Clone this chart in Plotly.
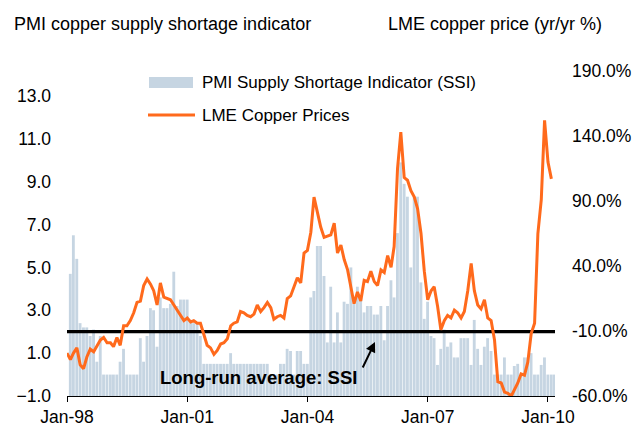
import pandas as pd
import plotly.graph_objects as go

# ---------------- data ----------------
start_month = "1998-01-01"
n_months = 146

ssi_values = [
    4.7, 6.5, 5.4, 2.4, 2.2, 2.2, 1.8, 2.1, 0.6, 1.8, 0.0, 0.0,
    0.0, 0.0, 0.0, 0.6, 1.2, 0.0, 0.0, 0.0, 0.0, 1.7, 0.6, 1.8,
    3.1, 3.0, 1.3, 3.6, 3.1, 3.1, 3.3, 4.8, 3.2, 3.5, 3.5, 3.5,
    2.5, 2.4, 2.4, 1.8, 0.5, 0.5, 0.5, 0.5, 0.5, 0.5, 0.5, 0.5,
    1.0, 0.5, 0.5, 0.5, 0.5, 0.5, 0.5, 0.5, 0.5, 0.5, 0.5, 0.5,
    0.0, 0.0, 0.0, 0.5, 0.5, 1.2, 1.1, 0.0, 1.1, 1.1, 0.5, 0.5,
    3.6, 3.9, 6.0, 6.0, 4.6, 1.5, 4.1, 1.5, 2.9, 1.5, 3.4, 3.3,
    5.0, 3.3, 4.1, 3.6, 2.9, 3.2, 3.2, 2.8, 2.8, 3.2, 1.6, 3.2,
    4.4, 3.6, 6.6, 9.9, 8.9, 8.3, 5.0, 8.3, 8.3, 4.3, 2.6, 3.4,
    1.8, 1.7, 0.45, 1.2, 2.1, 1.3, 1.5, 0.8, 0.8, 1.7, 1.7, 1.7,
    0.45, 2.55, 1.2, 0.45, 1.3, 1.7, 1.1, 0.0, 0.0, 0.0, 0.8, 0.0,
    0.0, 0.4, 0.5, 0.0, 0.8, 0.8, 1.0, 0.0, 0.0, 0.45, 0.8, 0.0,
    0.0, 0.0,
]

lme_copper_yoy = [
    -27, -32, -27, -23, -36, -39, -30, -24, -26, -22, -17, -15,
    -19, -19, -22, -15, -21, -6, -6, -2, 4, 12, 13, 25,
    30, 26, 21, 10, 27, 16, 15, 14, 10, 6, 2, -2,
    0, -3, -2, -4, -4, -13, -21, -23, -28, -25, -20, -19,
    -16, -6, -4, -3, 5, 4, 2, 1, 3, 10, 5, 8,
    12, 8, -1, 1, 2, 0, 15, 17, 24, 31, 27, 50,
    52, 66, 93, 80, 70, 62, 63, 64, 73, 50, 56, 45,
    37, 22, 11, 20, 13, 29, 28, 36, 28, 25, 37, 35,
    48, 39, 55, 115, 143, 108, 106, 98, 93, 84, 65, 36,
    14, 21, 24, 9, -9, -2, 2, 0, 6, 4, 0, 5,
    21, 42, 21, 10, 7, 14, 0, -2, -17, -49, -50, -57,
    -58, -60, -55, -50, -43, -44, -34, -12, -4, 65, 91, 152,
    120, 107,
]

long_run_avg_ssi = 2.0

left_ticks = [-1, 1, 3, 5, 7, 9, 11, 13]
right_ticks = [-60, -10, 40, 90, 140, 190]
x_tick_dates = ["1998-01-01", "2001-01-01", "2004-01-01", "2007-01-01", "2010-01-01"]
x_tick_labels = ["Jan-98", "Jan-01", "Jan-04", "Jan-07", "Jan-10"]

title_left = "PMI copper supply shortage indicator"
title_right = "LME copper price (yr/yr %)"
legend_bar = "PMI Supply Shortage Indicator (SSI)"
legend_line = "LME Copper Prices"
avg_label = "Long-run average: SSI"

# ---------------- figure ----------------
FONT = "Liberation Sans, Arial, sans-serif"
BAR_COLOR = "#C6D5E2"
LINE_COLOR = "#FF6A1C"

VIEW_W, VIEW_H = 642, 428
PAGE_OFFSET = 8            # default page body margin
W, H = VIEW_W - PAGE_OFFSET, VIEW_H - PAGE_OFFSET
PL, PR, PT, PB = 67, 555, 71, 396  # plot area in viewport px


def px_x(p):
    return (p - PL) / (PR - PL)


def px_y(p):
    return (PB - p) / (PB - PT)


dates = pd.date_range(start_month, periods=n_months, freq="MS")
bar_x = dates + pd.offsets.MonthEnd(1)
x_range = [pd.Timestamp("1998-01-01"), pd.Timestamp("2010-03-06")]

y_left_range = [-1, -1 + (PB - PT) / 21.43]
bar_base = left_ticks[0]

fig = go.Figure()

fig.add_trace(go.Bar(
    x=bar_x,
    y=[v - bar_base for v in ssi_values],
    base=bar_base,
    width=26 * 86400000,
    marker=dict(color=BAR_COLOR, line=dict(width=0)),
    name=legend_bar,
    yaxis="y",
))

fig.add_trace(go.Scatter(
    x=x_range,
    y=[long_run_avg_ssi, long_run_avg_ssi],
    mode="lines",
    line=dict(color="black", width=3.2),
    yaxis="y",
    showlegend=False,
))

fig.add_trace(go.Scatter(
    x=dates,
    y=lme_copper_yoy,
    mode="lines",
    line=dict(color=LINE_COLOR, width=3),
    name=legend_line,
    yaxis="y2",
))

fig.update_layout(
    width=W, height=H,
    margin=dict(l=PL - PAGE_OFFSET, r=VIEW_W - PR, t=PT - PAGE_OFFSET, b=VIEW_H - PB,
                pad=0, autoexpand=False),
    plot_bgcolor="white", paper_bgcolor="white",
    showlegend=False,
    font=dict(family=FONT, size=17, color="black"),
    xaxis=dict(
        type="date", range=x_range, automargin=False,
        tickvals=x_tick_dates, ticktext=x_tick_labels,
        ticks="outside", ticklen=5, tickcolor="black", tickwidth=1,
        showline=True, linecolor="black", linewidth=1,
        showgrid=False, zeroline=False,
        tickfont=dict(size=17.5),
    ),
    yaxis=dict(
        range=y_left_range, automargin=False,
        tickvals=left_ticks, tickformat=".1f",
        showgrid=False, zeroline=False, showline=False, ticks="",
        ticklabelstandoff=15,
        tickfont=dict(size=17.5),
    ),
    yaxis2=dict(
        overlaying="y", side="right", automargin=False,
        range=[-60, 190],
        tickvals=right_ticks, ticktext=[f"{v:.1f}%" for v in right_ticks],
        showgrid=False, zeroline=False, showline=False, ticks="",
        ticklabelstandoff=16,
        tickfont=dict(size=17.5),
    ),
)

# legend (drawn manually to match the reference swatches)
fig.add_shape(type="rect", xref="paper", yref="paper",
              x0=px_x(149), x1=px_x(193), y0=px_y(88), y1=px_y(77),
              fillcolor=BAR_COLOR, line=dict(width=0))
fig.add_shape(type="line", xref="paper", yref="paper",
              x0=px_x(148), x1=px_x(195), y0=px_y(115), y1=px_y(115),
              line=dict(color=LINE_COLOR, width=3))

annotations = [
    dict(text=legend_bar, x=px_x(200), y=px_y(82.5), xanchor="left", yanchor="middle",
         font=dict(size=17)),
    dict(text=legend_line, x=px_x(200), y=px_y(115), xanchor="left", yanchor="middle",
         font=dict(size=17)),
    dict(text=title_left, x=px_x(12), y=px_y(24), xanchor="left", yanchor="middle",
         font=dict(size=18)),
    dict(text=title_right, x=px_x(386), y=px_y(24), xanchor="left", yanchor="middle",
         font=dict(size=18)),
    dict(text="<b>" + avg_label + "</b>", x=px_x(258), y=px_y(377),
         xanchor="center", yanchor="middle", font=dict(size=18.5)),
]
for a in annotations:
    fig.add_annotation(xref="paper", yref="paper", showarrow=False, **a)

fig.add_annotation(xref="paper", yref="paper", x=px_x(375), y=px_y(342),
                   ax=-13, ay=27, text="", showarrow=True,
                   arrowhead=2, arrowsize=1, arrowwidth=2, arrowcolor="black")

fig.write_html("out.html")
